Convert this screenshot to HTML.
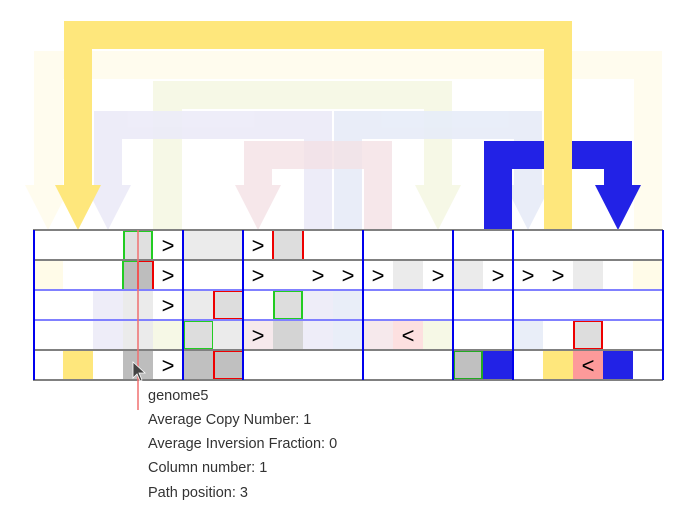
<!DOCTYPE html>
<html><head><meta charset="utf-8"><style>
html,body{margin:0;padding:0;background:#fff;width:686px;height:512px;overflow:hidden}
svg{display:block}
text{font-family:"Liberation Sans","DejaVu Sans",sans-serif}
</style></head><body>
<svg width="686" height="512" viewBox="0 0 686 512" xmlns="http://www.w3.org/2000/svg">
<!-- pale yellow -->
<g fill="#fffcee">
<rect x="34" y="51" width="628" height="28"/><rect x="34" y="51" width="29" height="134"/><rect x="634" y="51" width="28" height="179"/>
<polygon points="25,185 71,185 48,230"/></g>
<!-- green -->
<g fill="#f6f8e6">
<rect x="153" y="81" width="299" height="28"/><rect x="153" y="81" width="29" height="149"/><rect x="424" y="81" width="28" height="104"/>
<polygon points="415,185 461,185 438,230"/></g>
<!-- lavender -->
<g fill="#ecebf8" opacity="0.9">
<rect x="94" y="111" width="238" height="28"/><rect x="94" y="111" width="28" height="74"/><rect x="304" y="111" width="28" height="119"/>
<polygon points="85,185 131,185 108,230"/></g>
<!-- light blue -->
<g fill="#e7ecf8" opacity="0.9">
<rect x="334" y="111" width="208" height="28"/><rect x="334" y="111" width="28" height="119"/><rect x="514" y="111" width="28" height="74"/>
<polygon points="505,185 551,185 528,230"/></g>
<!-- pink -->
<g fill="#f4e2e6" opacity="0.8">
<rect x="244" y="141" width="148" height="28"/><rect x="244" y="141" width="28" height="44"/><rect x="364" y="141" width="28" height="89"/>
<polygon points="235,185 281,185 258,230"/></g>
<!-- blue -->
<g fill="#2222e6">
<rect x="484" y="141" width="148" height="28"/><rect x="484" y="141" width="28" height="89"/><rect x="604" y="141" width="28" height="44"/>
<polygon points="595,185 641,185 618,230"/></g>
<!-- yellow -->
<g fill="#fee77c">
<rect x="64" y="21" width="508" height="28"/><rect x="64" y="21" width="28" height="164"/><rect x="544" y="21" width="28" height="209"/>
<polygon points="55,185 101,185 78,230"/></g>

<!-- grid background white -->
<rect x="33" y="230" width="630" height="150" fill="#fff"/>
<!-- row0 -->
<rect x="123" y="230" width="30" height="30" fill="#e0e0e0"/>
<rect x="183" y="230" width="60" height="30" fill="#ebebeb"/>
<rect x="273" y="230" width="30" height="30" fill="#ddd" stroke="#e00" stroke-width="2"/>
<path d="M124,260 V231 H152 V260" fill="none" stroke="#2c2" stroke-width="2"/>
<!-- row1 -->
<rect x="33" y="260" width="30" height="30" fill="#fffbe8"/>
<rect x="123" y="261" width="15" height="29" fill="#bdbdbd" stroke="#2c2" stroke-width="2"/>
<rect x="138" y="261" width="15" height="29" fill="#bdbdbd" stroke="#e00" stroke-width="2"/>
<rect x="393" y="260" width="30" height="30" fill="#ebebeb"/>
<rect x="453" y="260" width="30" height="30" fill="#ebebeb"/>
<rect x="573" y="260" width="30" height="30" fill="#ebebeb"/>
<rect x="633" y="260" width="30" height="30" fill="#fffbe8"/>
<!-- row2 -->
<rect x="93" y="290" width="30" height="60" fill="#eeedf8"/>
<rect x="123" y="290" width="30" height="60" fill="#ebebeb"/>
<rect x="183" y="290" width="30" height="30" fill="#ebebeb"/>
<rect x="214" y="291" width="29" height="28" fill="#ddd" stroke="#e00" stroke-width="2"/>
<rect x="274" y="291" width="28" height="28" fill="#ddd" stroke="#2c2" stroke-width="2"/>
<rect x="303" y="290" width="30" height="60" fill="#eeedf8"/>
<rect x="333" y="290" width="30" height="60" fill="#e9eef8"/>
<!-- row3 -->
<rect x="153" y="320" width="30" height="30" fill="#f6f8e6"/>
<rect x="184" y="321" width="29" height="28" fill="#ddd" stroke="#2c2" stroke-width="2"/>
<rect x="213" y="320" width="30" height="30" fill="#ebebeb"/>
<rect x="243" y="320" width="30" height="30" fill="#f6e9ec"/>
<rect x="273" y="320" width="30" height="30" fill="#d4d4d4"/>
<rect x="363" y="320" width="30" height="30" fill="#f6e9ec"/>
<rect x="393" y="320" width="30" height="30" fill="#fde0e0"/>
<rect x="423" y="320" width="30" height="30" fill="#f6f8e6"/>
<rect x="513" y="320" width="30" height="30" fill="#e9eef8"/>
<rect x="574" y="321" width="28" height="28" fill="#ddd" stroke="#e00" stroke-width="2"/>
<!-- row4 -->
<rect x="63" y="350" width="30" height="30" fill="#fee77c"/>
<rect x="123" y="350" width="30" height="30" fill="#bdbdbd"/>
<rect x="183" y="350" width="30" height="30" fill="#c0c0c0"/>
<rect x="214" y="351" width="29" height="28" fill="#c0c0c0" stroke="#e00" stroke-width="2"/>
<rect x="454" y="351" width="28" height="28" fill="#c0c0c0" stroke="#2a2" stroke-width="2"/>
<rect x="483" y="350" width="30" height="30" fill="#2222e6"/>
<rect x="543" y="350" width="30" height="30" fill="#fee77c"/>
<rect x="573" y="350" width="30" height="30" fill="#fd9a9a"/>
<rect x="603" y="350" width="30" height="30" fill="#2222e6"/>

<!-- horizontal lines -->
<g stroke-width="2">
<line x1="33" y1="230" x2="663" y2="230" stroke="#808080"/>
<line x1="33" y1="260" x2="663" y2="260" stroke="#808080"/>
<line x1="33" y1="290" x2="663" y2="290" stroke="#8080ff"/>
<line x1="33" y1="320" x2="663" y2="320" stroke="#8080ff"/>
<line x1="33" y1="350" x2="663" y2="350" stroke="#808080"/>
<line x1="33" y1="380" x2="663" y2="380" stroke="#808080"/>
</g>
<g stroke="#0000ee" stroke-width="2">
<line x1="34" y1="230" x2="34" y2="380"/><line x1="183" y1="230" x2="183" y2="380"/>
<line x1="243" y1="230" x2="243" y2="380"/><line x1="363" y1="230" x2="363" y2="380"/>
<line x1="453" y1="230" x2="453" y2="380"/><line x1="513" y1="230" x2="513" y2="380"/>
<line x1="663" y1="230" x2="663" y2="380"/>
</g>

<g font-size="22" fill="#000" text-anchor="middle">
<text x="168" y="253">&gt;</text><text x="258" y="253">&gt;</text>
<text x="168" y="283">&gt;</text><text x="258" y="283">&gt;</text><text x="318" y="283">&gt;</text><text x="348" y="283">&gt;</text><text x="378" y="283">&gt;</text><text x="438" y="283">&gt;</text><text x="498" y="283">&gt;</text><text x="528" y="283">&gt;</text><text x="558" y="283">&gt;</text>
<text x="168" y="313">&gt;</text>
<text x="258" y="343">&gt;</text><text x="408" y="343">&lt;</text>
<text x="168" y="373">&gt;</text><text x="588" y="373">&lt;</text>
</g>

<line x1="138" y1="230" x2="138" y2="410" stroke="#f07070" stroke-width="1.5"/>
<polygon points="133,362 133,378 137,374 140,381 142,380 139,373 145,373" fill="#444" stroke="#fff" stroke-width="0.8"/>

<g font-size="14.5" fill="#333">
<text x="148" y="400">genome5</text>
<text x="148" y="424">Average Copy Number: 1</text>
<text x="148" y="448">Average Inversion Fraction: 0</text>
<text x="148" y="472">Column number: 1</text>
<text x="148" y="497">Path position: 3</text>
</g>
</svg>
</body></html>
